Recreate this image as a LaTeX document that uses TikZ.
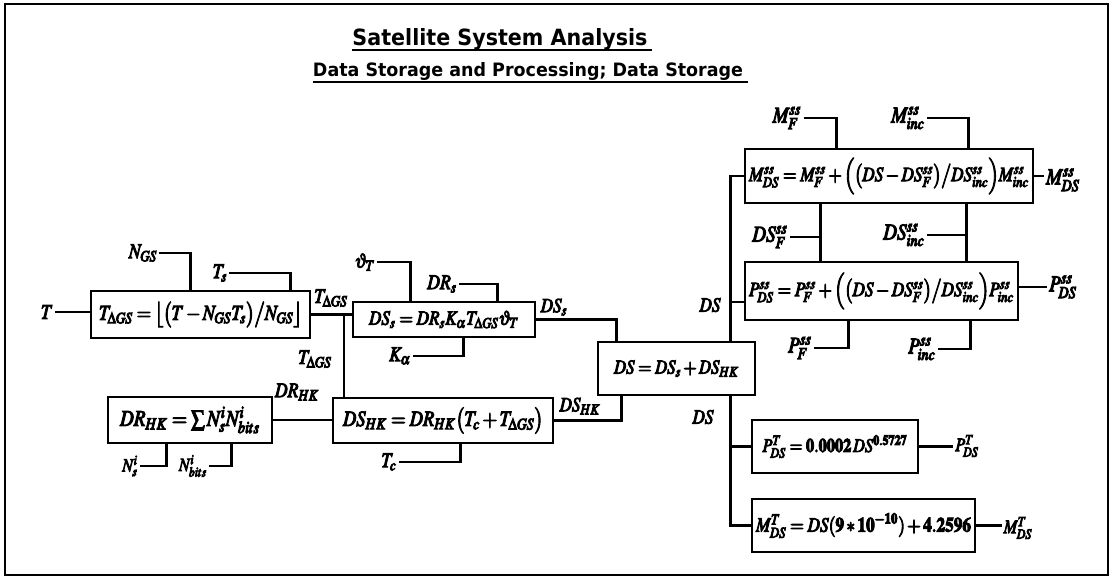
\documentclass[tikz,border=0pt]{standalone}
\usepackage{mathptmx}
\usepackage[no-math]{fontspec}
\newfontfamily\titlefont{DejaVu Sans}
\newcommand{\fakebold}[1]{\special{pdf:literal direct 2 Tr 0.5 w}#1\special{pdf:literal direct 0 Tr}}
\newcommand{\eqn}[2]{\resizebox{#1pt}{!}{\scalebox{0.85}[1]{\fakebold{$#2$}}}}
\newcommand{\lab}[2]{\resizebox{!}{#1pt}{\scalebox{0.85}[1]{\fakebold{$#2$}}}}
\begin{document}
\begin{tikzpicture}[x=1pt,y=-1pt,
  eqbox/.style={draw,rectangle,line width=2.8pt,inner sep=0pt},
  lbl/.style={inner sep=2pt},
  wire/.style={line width=2.8pt},
  uline/.style={line width=2.5pt},
  frame/.style={line width=2.4pt}
]
\useasboundingbox (0,0) rectangle (1114,578);
\fill[white] (0,0) rectangle (1114,578);
\draw[frame] (5,4) rectangle (1108,575);

% titles
\node[anchor=base,inner sep=0pt] (title) at (500,46) {\resizebox{295pt}{17pt}{\titlefont\bfseries Satellite System Analysis}};
\draw[uline] ([yshift=-4pt]title.base west) -- ([yshift=-4pt,xshift=4pt]title.base east);
\node[anchor=base,inner sep=0pt] (sub) at (528,77) {\resizebox{430pt}{14pt}{\titlefont\bfseries Data Storage and Processing; Data Storage}};
\draw[uline] ([yshift=-5pt]sub.base west) -- ([yshift=-5pt,xshift=5pt]sub.base east);

% boxes
\node[eqbox,minimum width=219pt,minimum height=47pt] (tgs) at (200.5,314.5)
  {\eqn{203}{T_{\Delta GS}=\bigl\lfloor\bigl(T-N_{GS}T_{s}\bigr)\big/N_{GS}\bigr\rfloor}};
\node[eqbox,minimum width=182pt,minimum height=35pt] (dss) at (444,319.5)
  {\eqn{150}{DS_{s}=DR_{s}K_{\alpha}T_{\Delta GS}\vartheta_{T}}};
\node[eqbox,minimum width=164pt,minimum height=46pt] (drhk) at (190,420)
  {\eqn{140}{DR_{HK}=\sum N^{i}_{s}N^{i}_{bits}}};
\node[eqbox,minimum width=220pt,minimum height=45pt] (dshk) at (443,420.5)
  {\eqn{200}{DS_{HK}=DR_{HK}\bigl(T_{c}+T_{\Delta GS}\bigr)}};
\node[eqbox,minimum width=157pt,minimum height=53pt] (ds) at (676.5,368.5)
  {\eqn{125}{DS=DS_{s}+DS_{HK}}};
\node[eqbox,minimum width=288pt,minimum height=54pt] (mss) at (889,176)
  {\eqn{280}{M^{ss}_{DS}=M^{ss}_{F}+\Bigl(\bigl(DS-DS^{ss}_{F}\bigr)\big/DS^{ss}_{inc}\Bigr)M^{ss}_{inc}}};
\node[eqbox,minimum width=273pt,minimum height=58pt] (pss) at (881.5,291)
  {\eqn{265}{P^{ss}_{DS}=P^{ss}_{F}+\Bigl(\bigl(DS-DS^{ss}_{F}\bigr)\big/DS^{ss}_{inc}\Bigr)P^{ss}_{inc}}};
\node[eqbox,minimum width=166pt,minimum height=53pt] (pt) at (835,446.5)
  {\eqn{145}{P^{T}_{DS}=\mathbf{0.0002}\,DS^{\mathbf{0.5727}}}};
\node[eqbox,minimum width=223pt,minimum height=53pt] (mt) at (863.5,525.5)
  {\eqn{215}{M^{T}_{DS}=DS(\mathbf{9}*\mathbf{10}^{-\mathbf{10}})+\mathbf{4.2596}}};

% labels (height above baseline in pt, then formula)
\node[lbl] (Tin) at (47,312) {\lab{13.5}{T}};
\node[lbl] (nGS) at (143,253) {\lab{13.5}{N_{GS}}};
\node[lbl] (Ts) at (220,273) {\lab{13.5}{T_{s}}};
\node[lbl] (TG1) at (331,298) {\lab{13.5}{T_{\Delta GS}}};
\node[lbl] (TG2) at (315,359) {\lab{13.5}{T_{\Delta GS}}};
\node[lbl] (thT) at (365,262) {\lab{14}{\vartheta_{T}}};
\node[lbl] (DRs) at (442,284) {\lab{13.5}{DR_{s}}};
\node[lbl] (Ka) at (400,356) {\lab{13.5}{K_{\alpha}}};
\node[lbl] (DSs) at (554,307) {\lab{13.5}{DS_{s}}};
\node[lbl] (DRHK) at (297,392) {\lab{13.5}{DR_{HK}}};
\node[lbl] (Nsi) at (130,466) {\lab{15.5}{N^{i}_{s}}};
\node[lbl] (Nbi) at (193,466) {\lab{15.5}{N^{i}_{bits}}};
\node[lbl] (Tc) at (389,462) {\lab{13.5}{T_{c}}};
\node[lbl] (DSHK) at (580,406) {\lab{13.5}{DS_{HK}}};
\node[lbl] (DSu) at (710,305) {\lab{13.5}{DS}};
\node[lbl] (DSd) at (703,417) {\lab{13.5}{DS}};
\node[lbl] (MF) at (787,118) {\lab{15.5}{M^{ss}_{F}}};
\node[lbl] (Minc) at (908,118) {\lab{15.5}{M^{ss}_{inc}}};
\node[lbl] (DSF) at (770,237) {\lab{15.5}{DS^{ss}_{F}}};
\node[lbl] (DSinc) at (904,235) {\lab{15.5}{DS^{ss}_{inc}}};
\node[lbl] (MDS) at (1063,180) {\lab{15.5}{M^{ss}_{DS}}};
\node[lbl] (PDS) at (1063,287) {\lab{15.5}{P^{ss}_{DS}}};
\node[lbl] (PF) at (800,348) {\lab{15.5}{P^{ss}_{F}}};
\node[lbl] (Pinc) at (922,349) {\lab{15.5}{P^{ss}_{inc}}};
\node[lbl] (PT) at (967,446) {\lab{16}{P^{T}_{DS}}};
\node[lbl] (MT) at (1018,528) {\lab{16}{M^{T}_{DS}}};

% junction coordinates
\coordinate (j1) at (344,314.5);
\coordinate (v1) at ([xshift=77pt]mss.south west);
\coordinate (v2) at ([xshift=223pt]mss.south west);

% connectors: first box
\draw[wire] (Tin) -- (Tin -| tgs.west);
\draw[wire] (nGS) -| ([xshift=101pt]tgs.north west);
\draw[wire] (Ts) -| ([xshift=201pt]tgs.north west);
\draw[wire] (tgs.east) -- (tgs.east -| dss.west);
\draw[wire] (j1) -- (j1 |- dshk.north);
% DS_s box
\draw[wire] (thT) -| ([xshift=59pt]dss.north west);
\draw[wire] (DRs) -| ([xshift=146pt]dss.north west);
\draw[wire] (Ka) -| ([xshift=112pt]dss.south west);
\draw[wire] (dss.east) -| ([xshift=20pt]ds.north west);
% DR_HK and DS_HK
\draw[wire] (drhk.east) -- (drhk.east -| dshk.west);
\draw[wire] (Nsi) -| ([xshift=60pt]drhk.south west);
\draw[wire] (Nbi) -| ([xshift=125pt]drhk.south west);
\draw[wire] (Tc) -| ([xshift=129pt]dshk.south west);
\draw[wire] (dshk.east) -| ([xshift=25pt]ds.south west);
% DS trunk
\draw[wire] ([xshift=134pt]ds.north west) |- (mss.west);
\draw[wire] ([xshift=134pt]ds.north west) |- ([yshift=-11pt]pss.west);
\draw[wire] ([xshift=134pt]ds.south west) |- (pt.west);
\draw[wire] ([xshift=134pt]ds.south west) |- (mt.west);
% M ss box
\draw[wire] (MF) -| ([xshift=93pt]mss.north west);
\draw[wire] (Minc) -| ([xshift=225pt]mss.north west);
\draw[wire] (mss.east) -- (mss.east -| MDS.west);
\draw[wire] (v1) -- (v1 |- pss.north);
\draw[wire] (v2) -- (v2 |- pss.north);
\draw[wire] (DSF) -- (DSF -| v1);
\draw[wire] (DSinc) -- (DSinc -| v2);
% P ss box
\draw[wire] ([yshift=4pt]pss.east) -- ([yshift=4pt]pss.east -| PDS.west);
\draw[wire] (PF) -| ([xshift=105pt]pss.south west);
\draw[wire] (Pinc) -| ([xshift=227pt]pss.south west);
% P T and M T
\draw[wire] (pt.east) -- (pt.east -| PT.west);
\draw[wire] (mt.east) -- (mt.east -| MT.west);
\end{tikzpicture}
\end{document}
